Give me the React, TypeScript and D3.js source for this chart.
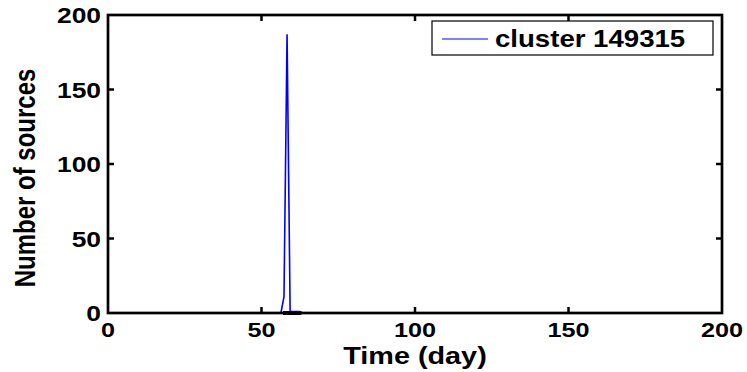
import * as d3 from 'd3';
import { useEffect, useRef } from 'react';

const xTicks = [0, 50, 100, 150, 200];
const yTicks = [0, 50, 100, 150, 200];
const clusterDays = [0, 56, 57, 58, 59, 60, 61, 62, 63, 200];
const clusterCounts = [0, 0, 11, 187, 1, 1, 1, 1, 0, 0];
const otherDays = [57, 63];
const otherCounts = [0, 0];
const seriesName = 'cluster 149315';

const W = 747;
const H = 372;

const App = () => {
  const ref = useRef<SVGSVGElement>(null);

  useEffect(() => {
    const svg = d3.select(ref.current);
    svg.selectAll('*').remove();

    const margin = { top: 15, bottom: 59, left: 108, right: 25 };
    const x = d3.scaleLinear().domain([0, 200]).range([margin.left, W - margin.right]);
    const y = d3.scaleLinear().domain([0, 200]).range([H - margin.bottom, margin.top]);
    const font = 'Liberation Sans, Arial, sans-serif';
    const sx = 1.2; // text in the reference is stretched horizontally

    const line = d3
      .line<[number, number]>()
      .x((d) => x(d[0]))
      .y((d) => y(d[1]));

    svg
      .append('path')
      .datum(otherDays.map((d, i) => [d, otherCounts[i]] as [number, number]))
      .attr('d', line)
      .style('fill', 'none')
      .style('stroke', '#000')
      .style('stroke-width', 4);

    svg
      .append('path')
      .datum(clusterDays.map((d, i) => [d, clusterCounts[i]] as [number, number]))
      .attr('d', line)
      .attr('transform', 'translate(1,0)')
      .style('fill', 'none')
      .style('stroke', '#0000ff')
      .style('stroke-width', 1.6);

    // frame
    svg
      .append('rect')
      .attr('x', x(0))
      .attr('y', y(200))
      .attr('width', x(200) - x(0))
      .attr('height', y(0) - y(200))
      .style('fill', 'none')
      .style('stroke', '#000')
      .style('stroke-width', 2.7);

    const tl = 6;
    xTicks.slice(1, -1).forEach((t) => {
      svg.append('line').attr('x1', x(t)).attr('x2', x(t)).attr('y1', y(0)).attr('y2', y(0) - tl)
        .style('stroke', '#000').style('stroke-width', 2.5);
      svg.append('line').attr('x1', x(t)).attr('x2', x(t)).attr('y1', y(200)).attr('y2', y(200) + tl)
        .style('stroke', '#000').style('stroke-width', 2.5);
    });
    yTicks.slice(1, -1).forEach((t) => {
      svg.append('line').attr('x1', x(0)).attr('x2', x(0) + tl).attr('y1', y(t)).attr('y2', y(t))
        .style('stroke', '#000').style('stroke-width', 2.5);
      svg.append('line').attr('x1', x(200)).attr('x2', x(200) - tl).attr('y1', y(t)).attr('y2', y(t))
        .style('stroke', '#000').style('stroke-width', 2.5);
    });

    const label = (tx: number, ty: number, size: number, anchor: string, txt: string, rot = 0) =>
      svg
        .append('text')
        .attr('transform', `translate(${tx},${ty}) ${rot ? `rotate(${rot})` : ''} scale(${rot ? 1 : sx},${rot ? sx : 1})`)
        .attr('text-anchor', anchor)
        .style('font-family', font)
        .style('font-weight', 'bold')
        .style('font-size', `${size}px`)
        .text(txt);

    xTicks.forEach((t) => label(x(t), y(0) + 24, 21, 'middle', String(t)));
    yTicks.forEach((t) => label(x(0) - 7, y(t) + 8, 22, 'end', String(t)));

    label((x(0) + x(200)) / 2, 364, 24, 'middle', 'Time (day)');
    label(35, 178, 24, 'middle', 'Number of sources', -90);

    // legend
    const lg = svg.append('g');
    lg.append('rect')
      .attr('x', 432)
      .attr('y', 21)
      .attr('width', 281)
      .attr('height', 34)
      .style('fill', '#fff')
      .style('stroke', '#000')
      .style('stroke-width', 1.2);
    lg.append('line')
      .attr('x1', 442)
      .attr('x2', 488)
      .attr('y1', 39)
      .attr('y2', 39)
      .style('stroke', '#0000ff')
      .style('stroke-width', 1);
    label(495, 47, 23, 'start', seriesName);
  }, []);

  return (
    <svg
      ref={ref}
      width={W}
      height={H}
      style={{ position: 'absolute', left: 0, top: 0, background: '#fff' }}
    ></svg>
  );
};

export default App;
